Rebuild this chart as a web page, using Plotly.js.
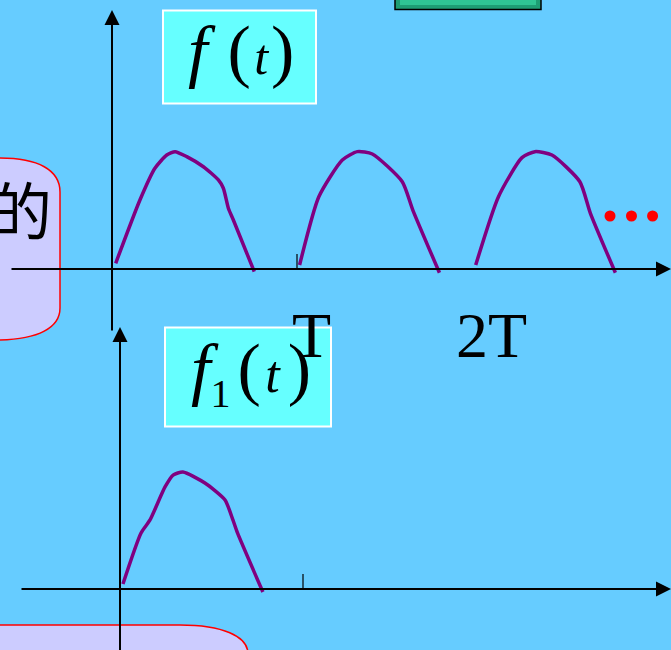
<!DOCTYPE html>
<html>
<head>
<meta charset="utf-8">
<script src="https://cdn.plot.ly/plotly-3.0.1.min.js"></script>
<style>html,body{margin:0;padding:0;background:#66CCFF;}#chart{width:671px;height:650px;}</style>
</head>
<body>
<div id="chart"></div>
<script>
// ---- data (t in units of the period T, f normalised to the hump peak) ----
const hump1T = [0.020, 0.151, 0.232, 0.296, 0.341, 0.404, 0.494, 0.575, 0.602, 0.629, 0.656, 0.769];
const hump1F = [0.049, 0.590, 0.861, 0.974, 1.003, 0.960, 0.874, 0.761, 0.690, 0.519, 0.419, -0.023];
const hump2T = [1.014, 1.118, 1.245, 1.326, 1.407, 1.569, 1.626, 1.770];
const hump2F = [0.034, 0.618, 0.932, 1.003, 0.983, 0.746, 0.504, -0.032];
const hump3T = [1.966, 2.089, 2.216, 2.286, 2.378, 2.529, 2.586, 2.721];
const hump3F = [0.034, 0.618, 0.952, 1.003, 0.974, 0.746, 0.476, -0.032];
const singleT = [0.016, 0.115, 0.164, 0.246, 0.290, 0.344, 0.464, 0.574, 0.617, 0.642, 0.781];
const singleF = [0.043, 0.479, 0.590, 0.872, 0.974, 1.000, 0.906, 0.761, 0.590, 0.479, -0.026];
const dotsT = [2.692, 2.808, 2.922];
const dotsF = [0.453, 0.453, 0.453];
const periodLabels = ['T', '2T'];
const periodLabelT = [1.078, 2.049];
const sp = s => '<span style="font-size:' + s + 'px">\u00A0</span>';
const topTitle = '<i>f</i>' + sp(70) + sp(10) + '(' + sp(14) + '<span style="font-size:50px"><i>t</i></span>' + sp(11) + ')';
const bottomTitle = '<i>f</i><sub><span style="font-size:40px">1</span></sub>' + sp(28) + '(' + sp(18) +
  '<span style="font-size:52px"><i>t</i></span>' + sp(32) + ')';
const sideText = '的';

// ---- helpers ----
const W = 671, H = 650;
const PX = p => p / W;
const PY = p => 1 - p / H;
const serif = 'Liberation Serif, Times New Roman, serif';
const purple = '#800080';

function pathPx(cmds) {
  return cmds.map(c => {
    const pts = [];
    for (let i = 1; i < c.length; i += 2) pts.push(PX(c[i]).toFixed(5) + ',' + PY(c[i + 1]).toFixed(5));
    return c[0] + pts.join(' ');
  }).join(' ');
}

const humpLine = {color: purple, width: 3.5, shape: 'spline', smoothing: 0.6};
const traces = [
  {x: hump1T, y: hump1F, mode: 'lines', line: humpLine, xaxis: 'x', yaxis: 'y', hoverinfo: 'skip'},
  {x: hump2T, y: hump2F, mode: 'lines', line: humpLine, xaxis: 'x', yaxis: 'y', hoverinfo: 'skip'},
  {x: hump3T, y: hump3F, mode: 'lines', line: humpLine, xaxis: 'x', yaxis: 'y', hoverinfo: 'skip'},
  {x: dotsT, y: dotsF, mode: 'markers', marker: {color: '#FF0000', size: 11}, xaxis: 'x', yaxis: 'y', hoverinfo: 'skip'},
  {x: singleT, y: singleF, mode: 'lines', line: humpLine, xaxis: 'x2', yaxis: 'y2', hoverinfo: 'skip'}
];

// axis geometry: top origin at px (112,269), T = 185px, unit = 117px; bottom origin (120,589), T = 183px
const topX0 = 112, topY0 = 269, topTpx = 185, unit = 117;
const botX0 = 120, botY0 = 589, botTpx = 183;
const hidden = {visible: false, fixedrange: true};
const layout = {
  width: W, height: H,
  margin: {l: 0, r: 0, t: 0, b: 0},
  paper_bgcolor: '#66CCFF', plot_bgcolor: 'rgba(0,0,0,0)',
  showlegend: false,
  xaxis: Object.assign({domain: [0, 1], anchor: 'y', range: [-topX0 / topTpx, (W - topX0) / topTpx]}, hidden),
  yaxis: Object.assign({domain: [0, 1], anchor: 'x', range: [-(H - topY0) / unit, topY0 / unit]}, hidden),
  xaxis2: Object.assign({domain: [0, 1], anchor: 'y2', range: [-botX0 / botTpx, (W - botX0) / botTpx]}, hidden),
  yaxis2: Object.assign({domain: [0, 1], anchor: 'x2', range: [-(H - botY0) / unit, botY0 / unit]}, hidden),
  shapes: [
    {type: 'rect', xref: 'paper', yref: 'paper', x0: PX(395), x1: PX(541), y0: PY(9.5), y1: PY(-3), fillcolor: '#1E9E74', line: {color: '#000000', width: 1.5}, layer: 'below'},
    {type: 'rect', xref: 'paper', yref: 'paper', x0: PX(400), x1: PX(536), y0: PY(5), y1: PY(-3), fillcolor: '#2FC594', line: {width: 0}, layer: 'below'},
    {type: 'path', xref: 'paper', yref: 'paper', layer: 'below',
     path: pathPx([['M', -10, 158], ['L', 0, 158], ['C', 38, 158, 60, 170, 60, 192], ['L', 60, 308], ['C', 60, 328, 38, 339, 0, 340], ['L', -10, 340], ['Z']]),
     fillcolor: '#CCCCFF', line: {color: '#FF0000', width: 1.5}},
    {type: 'path', xref: 'paper', yref: 'paper', layer: 'below',
     path: pathPx([['M', -10, 625], ['L', 180, 625], ['C', 222, 625, 248, 636, 248, 654], ['L', 248, 665], ['L', -10, 665], ['Z']]),
     fillcolor: '#CCCCFF', line: {color: '#FF0000', width: 1.5}},
    {type: 'rect', xref: 'paper', yref: 'paper', x0: PX(163), x1: PX(316), y0: PY(103.5), y1: PY(10.5), fillcolor: '#66FFFF', line: {color: '#FFFFFF', width: 2}, layer: 'below'},
    {type: 'rect', xref: 'paper', yref: 'paper', x0: PX(165), x1: PX(331), y0: PY(426.5), y1: PY(327.5), fillcolor: '#66FFFF', line: {color: '#FFFFFF', width: 2}, layer: 'below'},
    {type: 'line', xref: 'x', yref: 'y', x0: 1, x1: 1, y0: 0, y1: 15 / unit, line: {color: '#000000', width: 1.2}},
    {type: 'line', xref: 'x2', yref: 'y2', x0: 1, x1: 1, y0: 0, y1: 15 / unit, line: {color: '#000000', width: 1.2}}
  ],
  annotations: []
};

function arrow(xr, yr, x, y, ax, ay) {
  return {xref: xr, yref: yr, axref: xr, ayref: yr, x: x, y: y, ax: ax, ay: ay, text: '', showarrow: true,
          arrowhead: 2, arrowsize: 1.5, arrowwidth: 2, arrowcolor: '#000000', standoff: 0, startstandoff: 0};
}
layout.annotations.push(arrow('x', 'y', (W - topX0) / topTpx, 0, (10 - topX0) / topTpx, 0));
layout.annotations.push(arrow('x', 'y', 0, (topY0 - 10) / unit, 0, (topY0 - 332) / unit));
layout.annotations.push(arrow('x2', 'y2', (W - botX0) / botTpx, 0, (20 - botX0) / botTpx, 0));
layout.annotations.push(arrow('x2', 'y2', 0, (botY0 - 327) / unit, 0, (botY0 - 660) / unit));

periodLabels.forEach((t, i) => {
  layout.annotations.push({xref: 'x', yref: 'y', x: periodLabelT[i], y: (topY0 - 335.5) / unit, yanchor: 'middle', xanchor: 'center',
    text: t, showarrow: false, font: {family: serif, size: 64, color: '#000000'}});
});
layout.annotations.push({xref: 'paper', yref: 'paper', x: PX(241.3), y: PY(50.4), xanchor: 'center', yanchor: 'middle',
  text: topTitle, showarrow: false, font: {family: serif, size: 70, color: '#000000'}});
layout.annotations.push({xref: 'paper', yref: 'paper', x: PX(250.8), y: PY(373.4), xanchor: 'center', yanchor: 'middle',
  text: bottomTitle, showarrow: false, font: {family: serif, size: 70, color: '#000000'}});
layout.annotations.push({xref: 'paper', yref: 'paper', x: PX(54), y: PY(208), xanchor: 'right', yanchor: 'middle',
  text: sideText, showarrow: false, font: {family: 'Noto Sans CJK SC', size: 62, color: '#000000'}});

Plotly.newPlot('chart', traces, layout, {staticPlot: true, displayModeBar: false});
</script>
</body>
</html>
